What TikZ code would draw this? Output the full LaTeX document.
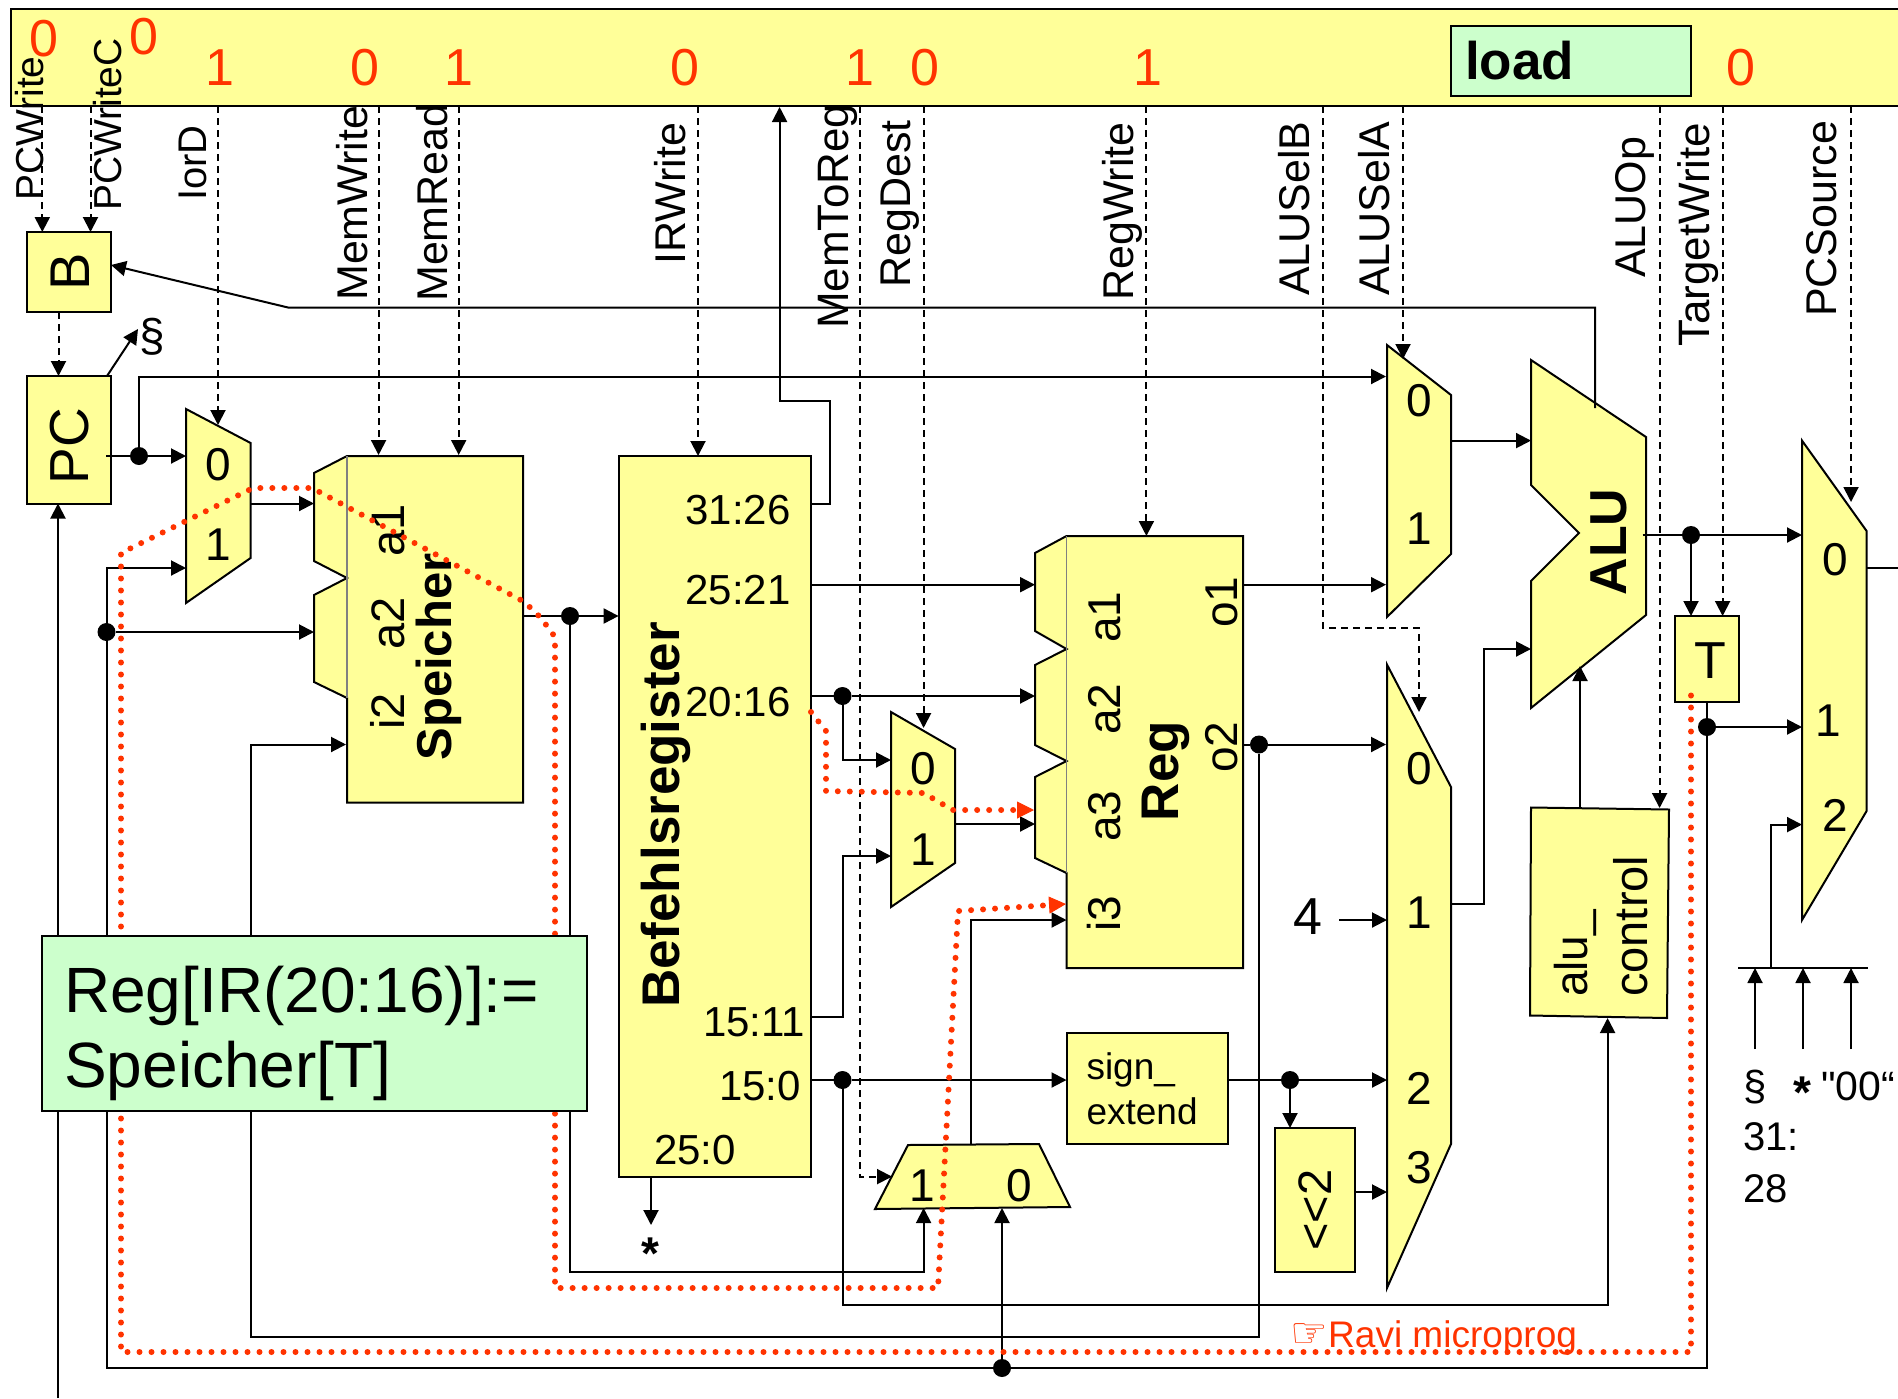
\documentclass[tikz,border=0pt]{standalone}
\usepackage{fontspec}
\setmainfont{Liberation Sans}
\newfontfamily\symfont{DejaVu Sans}
\newfontfamily\srcfont{Liberation Sans}
\usetikzlibrary{arrows.meta}

\definecolor{unityellow}{HTML}{FFFF99}
\definecolor{notegreen}{HTML}{CCFFCC}
\definecolor{tracered}{HTML}{FF3300}

\newcommand{\fsize}[1]{\fontsize{#1}{#1}\selectfont}

\begin{document}
\begin{tikzpicture}[x=1pt, y=-1pt,
    >={Triangle[length=15pt,width=15pt]},
    % Define the styles of the blocks and the lines
    unit/.style={draw=black, fill=unityellow, line width=2pt, line join=miter},
    block/.style={unit, inner sep=0pt, outer sep=0pt},
    notebox/.style={draw=black, fill=notegreen, line width=2pt, outer sep=0pt, align=left},
    wire/.style={line width=2pt},
    ctrlsig/.style={line width=2pt, dash pattern=on 7pt off 5pt},
    trace/.style={draw=tracered, line width=6pt, line cap=round, dash pattern=on 0pt off 12pt},
    junction/.style={circle, fill=black, inner sep=0pt, minimum size=18pt, outer sep=0pt},
    siglabel/.style={rotate=90, anchor=base west, inner sep=0pt, font=\fsize{43}},
    vlabel/.style={rotate=90, anchor=base, inner sep=0pt, font=\fsize{46}},
    boldlabel/.style={rotate=90, anchor=base, inner sep=0pt, font=\fsize{53}\bfseries},
    bitlabel/.style={inner sep=0pt, text=tracered, font=\fsize{52}},
    inlabel/.style={inner sep=0pt, font=\fsize{46}},
    fieldlabel/.style={inner sep=0pt, font=\fsize{42}}
]
\useasboundingbox (0,0) rectangle (1898,1398);

% Control bar
\fill[unityellow] (11,9) rectangle (1898,106);
\draw[line width=2.4pt] (1898,9) -- (11,9) -- (11,106) -- (1898,106);
\node[notebox, minimum width=240pt, minimum height=70pt, text width=212pt, inner xsep=14pt, inner ysep=0pt,
      font=\fsize{53}\bfseries] (loadbox) at (1571,60.5) {load};

% Define the pins of the wires
\coordinate (pcout) at (106,456);
\coordinate (pcin) at (58,503.5);
\coordinate (pcfeed) at (58,1398);
\coordinate (iorin0) at (186,456);
\coordinate (iorin1) at (186,568);
\coordinate (iorout) at (250.6,503.5);
\coordinate (busleft) at (106.5,1368);
\coordinate (memin1) at (314,503.5);
\coordinate (memin2) at (314,632);
\coordinate (memin3) at (346,744.5);
\coordinate (memout) at (523,616);
\coordinate (irin) at (618.6,616);
\coordinate (datalow) at (250.6,1336.5);
\coordinate (ir31) at (811,503.5);
\coordinate (irupa) at (830.4,400.7);
\coordinate (irupb) at (779.6,400.7);
\coordinate (ctrlin) at (779.6,107);
\coordinate (ir25) at (811,584.7);
\coordinate (ir20) at (811,696);
\coordinate (ir1511) at (811,1017);
\coordinate (ir150) at (811,1080);
\coordinate (ir250) at (651,1176.6);
\coordinate (irstar) at (651,1225);
\coordinate (dstin0) at (891,760);
\coordinate (dstin1) at (891,856);
\coordinate (dstbend) at (842.5,856);
\coordinate (dstout) at (955,824);
\coordinate (selin0) at (1002,1208);
\coordinate (selin1) at (923.6,1208);
\coordinate (sellow) at (923.6,1272);
\coordinate (selout) at (971,1145);
\coordinate (rega1) at (1035,584.7);
\coordinate (rega2) at (1035,696);
\coordinate (rega3) at (1035,824);
\coordinate (regi3) at (1066.5,920);
\coordinate (rego1) at (1243,584.7);
\coordinate (rego2) at (1243,744.5);
\coordinate (ctllow) at (1607.6,1305);
\coordinate (ctlin) at (1607.6,1018);
\coordinate (ctlout) at (1580,808.6);
\coordinate (aluin) at (1580,666);
\coordinate (aselin0) at (1386,376.5);
\coordinate (aselin1) at (1386,584.7);
\coordinate (aselout) at (1451,440.6);
\coordinate (bselin0) at (1386,744.5);
\coordinate (bselin1) at (1387,920);
\coordinate (bselin2) at (1387,1080);
\coordinate (bselin3) at (1387,1192);
\coordinate (bselout) at (1451,904);
\coordinate (fourout) at (1339,920);
\coordinate (signout) at (1227.5,1080);
\coordinate (signin) at (1066.5,1080);
\coordinate (shiftin) at (1290,1128);
\coordinate (shiftout) at (1354.5,1192);
\coordinate (alua) at (1531,440.6);
\coordinate (alub) at (1531,649);
\coordinate (alubend) at (1484,649);
\coordinate (aluout) at (1642.5,535);
\coordinate (alufb) at (1595,408);
\coordinate (fbbend) at (288,307.5);
\coordinate (bin) at (111,265);
\coordinate (tin) at (1691,616);
\coordinate (tout) at (1707,702);
\coordinate (pcsin0) at (1802,535);
\coordinate (pcsin1) at (1802,727);
\coordinate (pcsin2) at (1802,824.6);
\coordinate (pcsout) at (1866.6,568);
\coordinate (pcsend) at (1898,568);
\coordinate (barleft) at (1738,968);
\coordinate (barright) at (1868,968);
\coordinate (barmid) at (1771,968);
\coordinate (bara) at (1755,968);
\coordinate (barb) at (1803,968);
\coordinate (barc) at (1851,968);
\coordinate (srca) at (1755,1049);
\coordinate (srcb) at (1803,1049);
\coordinate (srcc) at (1851,1049);
\coordinate (pcup) at (107,376);
\coordinate (pctag) at (138,329);

% Draw the registers and boxes
\node[block, minimum width=84.4pt, minimum height=80pt] (bbox) at (68.8,272) {};
\node[block, minimum width=84.4pt, minimum height=127.5pt] (pcbox) at (68.8,439.8) {};
\node[block, minimum width=192.4pt, minimum height=720.6pt] (irbox) at (714.8,816.3) {};
\node[block, minimum width=161pt, minimum height=111.4pt, text width=121pt, inner xsep=20pt, align=left, font=\fontsize{37}{45}\selectfont] (signbox) at (1147,1088.3) {sign\_\\extend};
\node[block, minimum width=79.5pt, minimum height=144pt] (shiftbox) at (1314.8,1200) {};
\node[block, minimum width=64pt, minimum height=86pt] (tbox) at (1707,659) {};

% Draw the memory and the register file
\draw[unit] (347,456) -- (523,456) -- (523,802.5) -- (347,802.5) -- (347,698) -- (314,682) -- (314,595) -- (347,578) -- (314,561) -- (314,473) -- cycle;
\draw[gray, line width=1.5pt] (347,456) -- (347,698);
\draw[unit] (1066.5,536) -- (1243,536) -- (1243,968) -- (1066.5,968) -- (1066.5,873) -- (1035,858) -- (1035,777) -- (1066.5,761) -- (1035,745) -- (1035,665) -- (1066.5,649) -- (1035,631) -- (1035,553) -- cycle;
\draw[gray, line width=1.5pt] (1066.5,536) -- (1066.5,873);

% Draw the multiplexers
\draw[unit] (186,409) -- (250.6,443) -- (250.6,558) -- (186,603) -- cycle;
\draw[unit] (891,712) -- (955,749) -- (955,863) -- (891,907) -- cycle;
\draw[unit] (875,1209) -- (908,1145) -- (1039,1144) -- (1070,1207) -- cycle;
\draw[unit] (1387,345) -- (1451,395) -- (1451,554) -- (1387,617) -- cycle;
\draw[unit] (1387,664.6) -- (1451,787) -- (1451,1144) -- (1387,1288) -- cycle;
\draw[unit] (1802,440.6) -- (1866.6,531) -- (1866.6,811) -- (1802,920) -- cycle;

% Draw the ALU and its control
\draw[unit] (1531,360) -- (1646,437) -- (1646,615) -- (1531,708) -- (1531,581) -- (1579,533) -- (1531,485) -- cycle;
\draw[unit] (1531,807.5) -- (1669,809.5) -- (1667,1018) -- (1530,1015.5) -- cycle;

% Add the control signal names
\node[siglabel, font=\fsize{39}] (lpcw) at (43,201) {PCWrite};
\node[siglabel, font=\fsize{39}] (lpcwc) at (121,211) {PCWriteC};
\node[siglabel, font=\fsize{40}] (liord) at (206,201) {IorD};
\node[siglabel] (lmemw) at (367,301) {MemWrite};
\node[siglabel] (lmemr) at (447,302) {MemRead};
\node[siglabel] (lirw) at (685,265) {IRWrite};
\node[siglabel, font=\fsize{44}] (lmtr) at (848,329) {MemToReg};
\node[siglabel] (lrdst) at (910,288) {RegDest};
\node[siglabel] (lrw) at (1133,301) {RegWrite};
\node[siglabel] (lselb) at (1309,296) {ALUSelB};
\node[siglabel] (lsela) at (1389,296) {ALUSelA};
\node[siglabel] (laluop) at (1645,278) {ALUOp};
\node[siglabel, font=\fsize{44}] (ltw) at (1709,347) {TargetWrite};
\node[siglabel] (lpcs) at (1836,317) {PCSource};

% Add the state of the signals
\node[bitlabel] (bit1) at (43.7,39) {0};
\node[bitlabel] (bit2) at (144,37) {0};
\node[bitlabel] (bit3) at (220,68) {1};
\node[bitlabel] (bit4) at (365,68) {0};
\node[bitlabel] (bit5) at (459,68) {1};
\node[bitlabel] (bit6) at (685,68) {0};
\node[bitlabel] (bit7) at (860,68) {1};
\node[bitlabel] (bit8) at (925,68) {0};
\node[bitlabel] (bit9) at (1148,68) {1};
\node[bitlabel] (bit10) at (1741,68) {0};

% Add the labels of the blocks
\node[rotate=90, inner sep=0pt, font=\fsize{56}] (lb) at (70,272) {B};
\node[rotate=90, inner sep=0pt, font=\fsize{55}] (lpc) at (70,446) {PC};
\node[inner sep=0pt, font=\fsize{46}] (ltag) at (152,337) {§};
\node[inlabel] (ior0) at (218,465) {0};
\node[inlabel] (ior1) at (218,545) {1};
\node[siglabel, font=\fsize{47}] (mema1) at (404,557) {a1};
\node[siglabel, font=\fsize{47}] (mema2) at (404,650) {a2};
\node[siglabel, font=\fsize{47}] (memi2) at (404,730) {i2};
\node[boldlabel, font=\fsize{49}\bfseries] (lmem) at (451,657) {Speicher};
\node[boldlabel] (lir) at (679,815) {Befehlsregister};
\node[fieldlabel] (f1) at (738,510) {31:26};
\node[fieldlabel] (f2) at (738,590) {25:21};
\node[fieldlabel] (f3) at (738,702) {20:16};
\node[fieldlabel] (f4) at (754,1022) {15:11};
\node[fieldlabel] (f5) at (760,1086) {15:0};
\node[fieldlabel] (f6) at (695,1150) {25:0};
\node[inner sep=0pt, font=\fsize{46}\bfseries] (lstar) at (650,1254) {*};
\node[inlabel] (dst0) at (923.6,769) {0};
\node[inlabel] (dst1) at (923.6,850) {1};
\node[inlabel] (sel1) at (922,1186) {1};
\node[inlabel] (sel0) at (1019,1186) {0};
\node[vlabel] (rega1l) at (1120,617) {a1};
\node[vlabel] (rega2l) at (1120,709) {a2};
\node[vlabel] (rega3l) at (1120,816) {a3};
\node[vlabel] (regi3l) at (1120,914) {i3};
\node[vlabel] (rego1l) at (1237,602) {o1};
\node[vlabel] (rego2l) at (1237,747) {o2};
\node[boldlabel] (lreg) at (1178,771) {Reg};
\node[inlabel] (asel0) at (1419,401) {0};
\node[inlabel] (asel1) at (1419,529) {1};
\node[inlabel] (bsel0) at (1419,769) {0};
\node[inlabel] (bsel1) at (1419,913) {1};
\node[inlabel] (bsel2) at (1419,1088) {2};
\node[inlabel] (bsel3) at (1419,1168) {3};
\node[inner sep=0pt, font=\fsize{52}] (lfour) at (1308,917) {4};
\node[rotate=90, inner sep=0pt, font=\fsize{47}] (lshift) at (1315,1210) {<{}<2};
\node[boldlabel, font=\fsize{52}\bfseries] (lalu) at (1626,542) {ALU};
\node[siglabel, font=\fsize{46}] (lctla) at (1587,997) {alu\_};
\node[siglabel, font=\fsize{47}] (lctlb) at (1647,997) {control};
\node[inner sep=0pt, font=\fsize{52}] (lt) at (1710,661) {T};
\node[inlabel] (pcs0) at (1835,560) {0};
\node[inlabel] (pcs1) at (1828,721) {1};
\node[inlabel] (pcs2) at (1835,815) {2};
\node[anchor=base west, inner sep=0pt, font=\fsize{42}] (srcla) at (1743,1100) {§};
\node[inner sep=0pt, anchor=base, font=\fsize{46}\bfseries] (srclb) at (1802,1108) {*};
\node[anchor=base west, inner sep=0pt, font=\srcfont\fsize{41}] (srclc) at (1821,1100) {"00“};
\node[anchor=base west, inner sep=0pt, font=\fsize{40}] (srcld) at (1743,1150) {31:};
\node[anchor=base west, inner sep=0pt, font=\fsize{40}] (srcle) at (1743,1202) {28};

% Add the junctions
\node[junction] (jpc) at (139,456) {};
\node[junction] (jloop) at (106.5,632) {};
\node[junction] (jmem) at (570,616) {};
\node[junction] (jir20) at (842.5,696) {};
\node[junction] (jimm) at (842.5,1080) {};
\node[junction] (jo2) at (1259,744.5) {};
\node[junction] (jsign) at (1290,1080) {};
\node[junction] (jalu) at (1691,535) {};
\node[junction] (jt) at (1707,727) {};
\node[junction] (jbus) at (1002,1368) {};

% Draw the wires
\draw[wire,->] (pcout) -- (jpc) -- (iorin0);
\draw[wire,->] (jpc) |- (aselin0);
\draw[wire,->] (pcfeed) -- (pcin);
\draw[wire,->] (pcup) -- (pctag);
\draw[wire,->] (tout) |- (busleft) |- (iorin1);
\draw[wire,->] (jloop) -- (memin2);
\draw[wire,->] (iorout) -- (memin1);
\draw[wire,->] (jo2) |- (datalow) |- (memin3);
\draw[wire,->] (memout) -- (jmem) -- (irin);
\draw[wire,->] (jmem) |- (sellow) -- (selin1);
\draw[wire,->] (ir31) -| (irupa) -- (irupb) -- (ctrlin);
\draw[wire,->] (ir25) -- (rega1);
\draw[wire,->] (ir20) -- (jir20) -- (rega2);
\draw[wire,->] (jir20) |- (dstin0);
\draw[wire,->] (ir1511) -| (dstbend) -- (dstin1);
\draw[wire,->] (ir150) -- (jimm) -- (signin);
\draw[wire,->] (jimm) |- (ctllow) -- (ctlin);
\draw[wire,->] (ir250) -- (irstar);
\draw[wire,->] (dstout) -- (rega3);
\draw[wire,->] (selout) |- (regi3);
\draw[wire,->] (jbus) -- (selin0);
\draw[wire,->] (rego1) -- (aselin1);
\draw[wire,->] (rego2) -- (jo2) -- (bselin0);
\draw[wire,->] (aselout) -- (alua);
\draw[wire,->] (bselout) -| (alubend) -- (alub);
\draw[wire,->] (fourout) -- (bselin1);
\draw[wire,->] (signout) -- (jsign) -- (bselin2);
\draw[wire,->] (jsign) -- (shiftin);
\draw[wire,->] (shiftout) -- (bselin3);
\draw[wire,->] (aluout) -- (jalu) -- (pcsin0);
\draw[wire,->] (jalu) -- (tin);
\draw[wire,->] (alufb) |- (fbbend) -- (bin);
\draw[wire,->] (ctlout) -- (aluin);
\draw[wire,->] (jt) -- (pcsin1);
\draw[wire] (pcsout) -- (pcsend);
\draw[wire] (barleft) -- (barright);
\draw[wire,->] (barmid) |- (pcsin2);
\draw[wire,->] (srca) -- (bara);
\draw[wire,->] (srcb) -- (barb);
\draw[wire,->] (srcc) -- (barc);

% Draw the control signals
\coordinate (sig1) at (42.3,106);
\coordinate (sig2) at (90.5,106);
\coordinate (sig3) at (218,106);
\coordinate (sig4) at (378.6,106);
\coordinate (sig5) at (458.7,106);
\coordinate (sig6) at (698,106);
\coordinate (sig7) at (859.5,106);
\coordinate (sig8) at (923.6,106);
\coordinate (sig9) at (1146.4,106);
\coordinate (sig10) at (1323,106);
\coordinate (sig11) at (1403,106);
\coordinate (sig12) at (1659.6,106);
\coordinate (sig13) at (1722.6,106);
\coordinate (sig14) at (1851,106);
\coordinate (selbbend) at (1419,628);
\coordinate (mtrend) at (892,1176.6);
\coordinate (bpc) at (58.5,312);
\coordinate (pctop) at (58.5,376);
\draw[ctrlsig,->] (sig1) -- (42.3,232);
\draw[ctrlsig,->] (sig2) -- (90.5,232);
\draw[ctrlsig,->] (bpc) -- (pctop);
\draw[ctrlsig,->] (sig3) -- (218,425);
\draw[ctrlsig,->] (sig4) -- (378.6,455);
\draw[ctrlsig,->] (sig5) -- (458.7,455);
\draw[ctrlsig,->] (sig6) -- (698,456);
\draw[ctrlsig,->] (sig7) |- (mtrend);
\draw[ctrlsig,->] (sig8) -- (923.6,728);
\draw[ctrlsig,->] (sig9) -- (1146.4,536);
\draw[ctrlsig,->] (sig10) |- (selbbend) -- (1419,712);
\draw[ctrlsig,->] (sig11) -- (1403,359);
\draw[ctrlsig,->] (sig12) -- (1659.6,808);
\draw[ctrlsig,->] (sig13) -- (1722.6,616);
\draw[ctrlsig,->] (sig14) -- (1851,502);

% Draw the dotted trace
\coordinate (ta) at (1691,695.5);
\coordinate (tb) at (1691,1352);
\coordinate (tc) at (121,1352);
\coordinate (td) at (121,553);
\coordinate (te) at (253,488);
\coordinate (tf) at (312,488);
\coordinate (tg) at (524.5,602);
\coordinate (th) at (541,618);
\coordinate (ti) at (555,637);
\coordinate (tj) at (555,1288);
\coordinate (tk) at (938,1288);
\coordinate (tl) at (958,911);
\coordinate (tm) at (1050,905);
\coordinate (tn) at (1066,904);
\coordinate (tq) at (811,712);
\coordinate (tr) at (826,731);
\coordinate (ts) at (826,791);
\coordinate (tt) at (923.6,793);
\coordinate (tu) at (952.6,810);
\coordinate (tv) at (1018,810);
\coordinate (tw) at (1034,810);
\draw[trace] (ta) -- (tb) -- (tc) -- (td) -- (te) -- (tf) -- (tg) -- (th) -- (ti) -- (tj) -- (tk) -- (tl) -- (tm);
\draw[trace] (tq) -- (tr) -- (ts) -- (tt) -- (tu) -- (tv);
\draw[-{Triangle[length=17pt,width=17pt]}, tracered, line width=1pt] (tm) -- (tn);
\draw[-{Triangle[length=17pt,width=17pt]}, tracered, line width=1pt] (tv) -- (tw);

% Add the note
\node[anchor=base west, inner sep=0pt, text=tracered, font=\fsize{37}] (lravi) at (1328,1347) {Ravi microprog};
\node[inner sep=0pt, text=tracered, font=\symfont\fsize{42}] (lhand) at (1309,1336) {☞};
\node[notebox, minimum width=544.6pt, minimum height=175pt] (notelabel) at (314.7,1023.5) {};
\node[anchor=base west, inner sep=0pt, align=left, font=\fontsize{64}{75}\selectfont] (notetext) at (64,1087) {Reg[IR(20:16)]:=\\Speicher[T]};

\end{tikzpicture}
\end{document}
